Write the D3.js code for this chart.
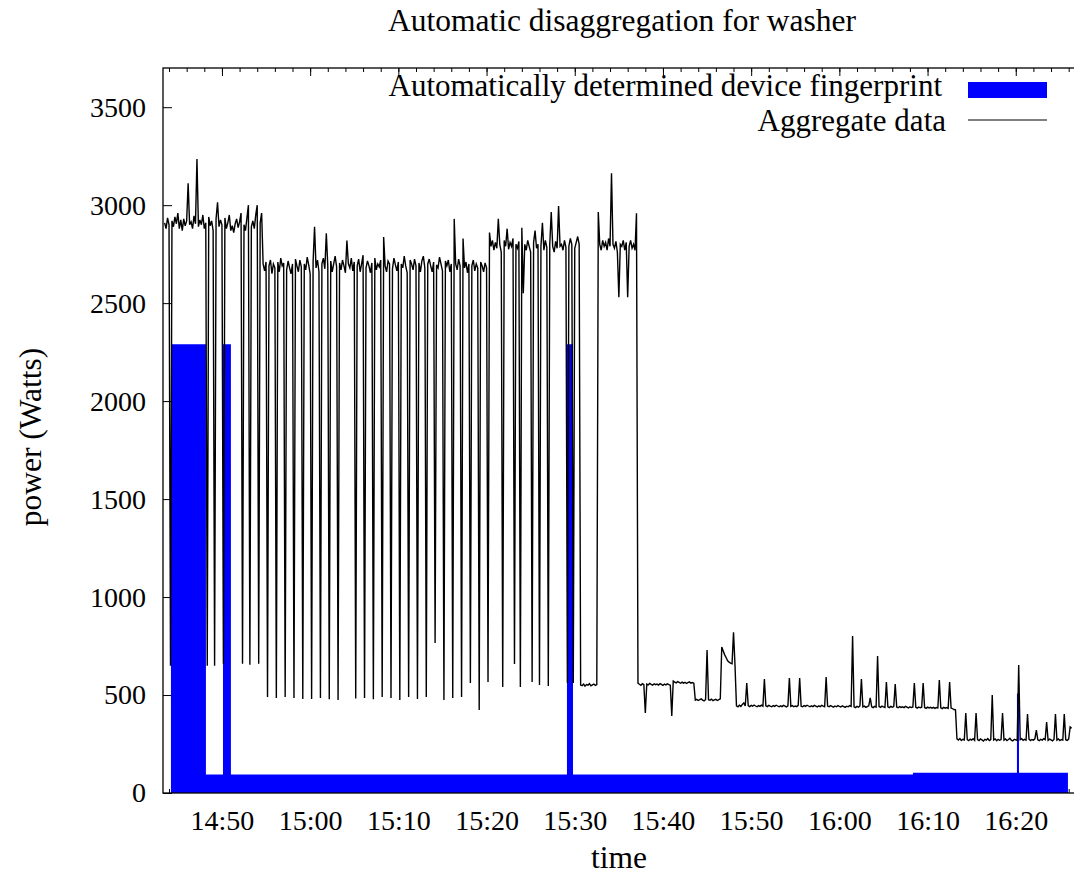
<!DOCTYPE html>
<meta charset="utf-8">
<style>
body { margin: 0; background: #fff; }
text { font-family: "Liberation Serif", "Times New Roman", serif; font-size: 28px; fill: #000; }
text.label { font-size: 31.5px; }
text.key { font-size: 31px; }
</style>
<body>
<script src="https://d3js.org/d3.v7.min.js"></script>

<script>

// aggregate meter reading: one sample every 10 s, starting 14:43:30
var aggStart = "14:43:30", aggStep = 10;
var aggWatts = [
  2910, 2880, 2935, 2900, 650, 2920,
  2890, 2940, 2905, 2960, 2880, 2925,
  2870, 2930, 2895, 2920, 3112, 2900,
  2915, 2880, 2945, 2905, 3235, 2890,
  2925, 2900, 2950, 2880, 2910, 650,
  2940, 2895, 2920, 2870, 650, 2930,
  3015, 2890, 2925, 2900, 660, 2935,
  2880, 2910, 2950, 2870, 2895, 2860,
  2905, 2930, 2885, 2915, 2960, 660,
  2900, 2870, 2935, 3000, 655, 2890,
  2920, 2880, 2950, 3000, 660, 2910,
  2960, 2700, 2665, 2710, 490, 2690,
  2720, 2650, 2700, 2680, 485, 2710,
  2660, 2730, 2690, 2705, 490, 2670,
  2715, 2680, 2650, 2700, 485, 2725,
  2690, 2660, 2720, 2685, 480, 2700,
  2670, 2735, 2695, 2650, 480, 2710,
  2890, 2680, 2720, 2660, 485, 2700,
  2730, 2675, 2857, 2690, 478, 2715,
  2660, 2700, 2740, 2685, 475, 2705,
  2670, 2720, 2690, 2655, 2820, 2700,
  2680, 2730, 2665, 2710, 482, 2690,
  2725, 2660, 2700, 2745, 485, 2680,
  2715, 2690, 2655, 2705, 478, 2730,
  2670, 2700, 2685, 2720, 490, 2837,
  2690, 2660, 2715, 2700, 485, 2675,
  2730, 2695, 2665, 2710, 474, 2700,
  2680, 2740, 2690, 2655, 490, 2720,
  2700, 2670, 2725, 2690, 480, 2705,
  2660, 2715, 2740, 2680, 490, 2700,
  2725, 2690, 2660, 2710, 765, 2695,
  2680, 2735, 2700, 2665, 474, 2715,
  2690, 2720, 2660, 2700, 485, 2930,
  2700, 2670, 2725, 2690, 490, 2830,
  2680, 2710, 2655, 2700, 561, 2690,
  2720, 2665, 2700, 2680, 423, 2710,
  2690, 2660, 2705, 2680, 566, 2860,
  2790, 2820, 2770, 2810, 2780, 2930,
  2800, 2760, 541, 2820, 2790, 2880,
  2775, 2810, 2790, 2830, 658, 2800,
  2780, 2815, 541, 2885, 2550, 2800,
  2770, 2820, 2790, 2760, 566, 2810,
  2870, 2780, 2800, 551, 2790, 2910,
  2770, 2820, 2785, 546, 2800, 2965,
  2790, 2760, 2815, 2780, 2995, 2790,
  2800, 2770, 2820, 2785, 561, 2790,
  2830, 2800, 561, 2780, 2810, 2840,
  2800, 551, 548, 556, 545, 553,
  550, 558, 547, 552, 556, 549,
  553, 2965, 2800, 2770, 2820, 2790,
  2810, 2770, 2830, 2790, 3163, 2800,
  2780, 2815, 2760, 2530, 2800, 2790,
  2820, 2770, 2810, 2530, 2790, 2820,
  2780, 2800, 2770, 2959, 561, 555,
  550, 558, 553, 408, 556, 552,
  559, 554, 550, 557, 553, 556,
  551, 558, 554, 549, 556, 552,
  557, 553, 550, 393, 571, 566,
  562, 568, 564, 560, 566, 561,
  565, 559, 563, 567, 561, 564,
  560, 474, 478, 472, 476, 480,
  474, 470, 477, 730, 476, 473,
  479, 471, 475, 478, 472, 476,
  480, 745, 725, 705, 690, 675,
  668, 663, 660, 820, 653, 445,
  440, 448, 442, 452, 460, 444,
  561, 446, 441, 447, 443, 449,
  444, 440, 446, 442, 448, 443,
  582, 445, 441, 447, 443, 440,
  446, 442, 448, 444, 440, 445,
  441, 447, 443, 439, 445, 587,
  442, 446, 440, 444, 441, 447,
  587, 443, 440, 446, 442, 448,
  444, 440, 445, 441, 447, 443,
  439, 445, 441, 447, 443, 440,
  592, 444, 440, 446, 442, 438,
  444, 440, 446, 442, 439, 445,
  441, 437, 443, 440, 446, 442,
  801, 440, 436, 442, 438, 444,
  582, 439, 443, 437, 441, 445,
  485, 440, 436, 442, 438, 699,
  441, 437, 443, 439, 436, 566,
  440, 436, 442, 438, 441, 556,
  439, 435, 441, 437, 440, 436,
  442, 438, 434, 440, 436, 439,
  561, 437, 433, 439, 435, 438,
  561, 436, 432, 438, 434, 437,
  433, 437, 432, 436, 434, 577,
  435, 431, 437, 433, 436, 432,
  566, 434, 430, 426, 424, 276,
  270, 278, 268, 274, 271, 408,
  272, 267, 275, 270, 277, 269,
  408, 273, 268, 276, 271, 265,
  274, 270, 278, 268, 273, 500,
  271, 276, 267, 274, 269, 273,
  408, 270, 276, 268, 273, 279,
  270, 266, 274, 271, 268, 653,
  272, 277, 269, 274, 270, 403,
  275, 268, 273, 270, 276, 321,
  271, 267, 274, 270, 277, 272,
  362, 269, 275, 271, 266, 273,
  403, 270, 276, 268, 273, 270,
  403, 272, 268, 275, 337, 330
];

// fingerprint: each value holds until the next time
var fpTimes = ["14:44:13", "14:48:11", "14:50:07", "14:51:01", "15:29:07",
               "15:29:48", "16:08:21", "16:20:08", "16:20:22", "16:25:55"];
var fpWatts = [2290, 95, 2290, 95, 2290, 95, 103, 508, 103, 103];

var xStart = "14:43:19", xEnd = "16:27:51";
var yMax = 3700;
var yTicks = [0, 500, 1000, 1500, 2000, 2500, 3000, 3500];

var title = "Automatic disaggregation for washer";
var xTitle = "time", yTitle = "power (Watts)";
var fpName = "Automatically determined device fingerprint";
var aggName = "Aggregate data";

var width = 1074, height = 877;
var pLeft = 163, pRight = 1085, pTop = 68, pBottom = 793;

var parse = d3.timeParse("%H:%M:%S");
var t0 = parse(aggStart);
var agg = aggWatts.map(function(v, i){
  return {t: d3.timeSecond.offset(t0, i*aggStep), v: v};
});
var fp = fpTimes.map(function(s, i){ return {t: parse(s), v: fpWatts[i]}; });

var x = d3.scaleTime().domain([parse(xStart), parse(xEnd)]).range([pLeft, pRight]);
var y = d3.scaleLinear().domain([0, yMax]).range([pBottom, pTop]);

var svg = d3.select("body").append("svg")
   .attr("width", width)
   .attr("height", height);

// ticks (drawn first, the fingerprint covers the bottom ones)
function tidy(g){ g.select(".domain").remove(); g.selectAll("line").attr("stroke", "#000"); }

svg.append("g").attr("transform", "translate(0," + pBottom + ")")
  .call(d3.axisBottom(x).ticks(d3.timeMinute.every(10))
    .tickFormat(d3.timeFormat("%H:%M")).tickSize(-8).tickPadding(17))
  .call(tidy);
svg.append("g").attr("transform", "translate(0," + pBottom + ")")
  .call(d3.axisBottom(x).ticks(d3.timeMinute.every(2)).tickFormat("").tickSize(-4))
  .call(tidy);
svg.append("g").attr("transform", "translate(0," + pTop + ")")
  .call(d3.axisTop(x).ticks(d3.timeMinute.every(10)).tickFormat("").tickSize(-8))
  .call(tidy);
svg.append("g").attr("transform", "translate(0," + pTop + ")")
  .call(d3.axisTop(x).ticks(d3.timeMinute.every(2)).tickFormat("").tickSize(-4))
  .call(tidy);
svg.append("g").attr("transform", "translate(" + pLeft + ",0)")
  .call(d3.axisLeft(y).tickValues(yTicks).tickFormat(d3.format("d"))
    .tickSize(-9).tickPadding(17))
  .call(tidy);

svg.append("path")
  .datum(fp)
  .attr("fill", "#0000ff")
  .attr("d", d3.area().curve(d3.curveStepAfter)
    .x(function(d){ return x(d.t); })
    .y0(y(0))
    .y1(function(d){ return y(d.v); }));

svg.append("path")
  .datum(agg)
  .attr("fill", "none")
  .attr("stroke", "#000")
  .attr("stroke-width", 1.4)
  .attr("d", d3.line()
    .x(function(d){ return x(d.t); })
    .y(function(d){ return y(d.v); }));

svg.append("rect")
  .attr("x", pLeft).attr("y", pTop)
  .attr("width", pRight - pLeft).attr("height", pBottom - pTop)
  .attr("fill", "none").attr("stroke", "#000").attr("stroke-width", 1.3);

// titles
svg.append("text").attr("class", "label").attr("x", 622).attr("y", 31)
  .attr("text-anchor", "middle").text(title);
svg.append("text").attr("class", "label").attr("x", 619).attr("y", 868)
  .attr("text-anchor", "middle").text(xTitle);
svg.append("text").attr("class", "label").attr("transform", "translate(41,437) rotate(-90)")
  .attr("text-anchor", "middle").text(yTitle);

// legend
var legend = svg.append("g");
legend.append("text").attr("class", "key").attr("x", 942).attr("y", 96)
  .attr("text-anchor", "end").text(fpName);
legend.append("rect").attr("x", 968).attr("y", 82)
  .attr("width", 79).attr("height", 16).attr("fill", "#0000ff");
legend.append("text").attr("class", "key").attr("x", 946).attr("y", 130.5)
  .attr("text-anchor", "end").text(aggName);
legend.append("line").attr("x1", 968).attr("x2", 1047)
  .attr("y1", 120).attr("y2", 120)
  .attr("stroke", "#000").attr("stroke-width", 1.2);

</script>
</body>
